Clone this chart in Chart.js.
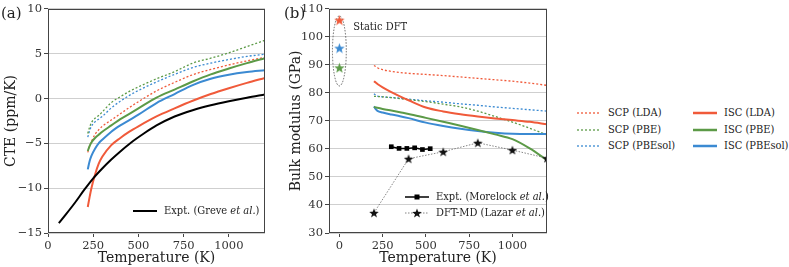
<!DOCTYPE html>
<html>
<head>
<meta charset="utf-8">
<script src="https://cdn.jsdelivr.net/npm/chart.js@4.4.1/dist/chart.umd.min.js"></script>
<style>
body { margin: 0; background: #fff; font-family: 'DejaVu Serif', serif; color: #222; }
#wrap { position: relative; width: 789px; height: 267px; overflow: hidden; }
canvas.plot { position: absolute; top: 0; }
#cA { left: 0; }
#cB { left: 285px; }
.lab { position: absolute; font-size: 15px; line-height: 16px; }
.leg { position: absolute; font-family: 'DejaVu Serif Condensed', 'DejaVu Serif', serif; font-size: 11px; line-height: 14px; white-space: nowrap; color: #222; }
</style>
</head>
<body>
<div id="wrap">
  <canvas id="cA" class="plot" width="280" height="267"></canvas>
  <canvas id="cB" class="plot" width="275" height="267"></canvas>
  <div class="lab" style="left:1px;top:5px">(a)</div>
  <div class="lab" style="left:284px;top:5px">(b)</div>
</div>
<script>
// Panel (a): thermal expansion coefficient
const exptTemp = [60, 100, 150, 200, 250, 300, 350, 400, 460, 530, 600, 700, 800, 900, 1000, 1100, 1200];
const exptCte = [-13.9, -12.9, -11.6, -10.2, -8.9, -7.8, -6.8, -5.9, -4.9, -3.9, -3.0, -2.0, -1.3, -0.75, -0.3, 0.1, 0.45];

const tempA = [220, 230, 240, 260, 280, 300, 350, 400, 450, 500, 600, 700, 800, 900, 1000, 1100, 1200];
const cteIscLda = [-12.1, -11.0, -10.0, -8.5, -7.3, -6.5, -5.2, -4.4, -3.7, -3.1, -2.0, -1.1, -0.25, 0.5, 1.15, 1.75, 2.3];
const cteIscPbe = [-5.85, -5.3, -4.9, -4.4, -4.05, -3.7, -3.0, -2.3, -1.7, -1.1, 0.1, 1.0, 1.9, 2.7, 3.35, 3.95, 4.5];
const cteIscPbesol = [-7.9, -7.0, -6.4, -5.6, -5.0, -4.6, -3.7, -3.0, -2.4, -1.8, -0.5, 0.5, 1.5, 2.2, 2.65, 2.95, 3.15];
const cteScpLda = [-6.0, -5.3, -4.8, -4.0, -3.5, -3.1, -2.4, -1.7, -1.0, -0.35, 0.85, 1.8, 2.65, 3.25, 3.75, 4.2, 4.6];
const cteScpPbe = [-3.9, -3.2, -2.7, -2.2, -1.9, -1.5, -0.45, 0.2, 0.8, 1.3, 2.2, 3.0, 3.95, 4.5, 5.1, 5.8, 6.5];
const cteScpPbesol = [-4.3, -3.6, -3.1, -2.6, -2.3, -2.0, -1.05, -0.3, 0.35, 0.9, 1.85, 2.7, 3.45, 3.95, 4.35, 4.7, 4.95];

// Panel (b): bulk modulus
const tempB = [200, 210, 220, 250, 300, 350, 400, 500, 600, 700, 800, 900, 1000, 1100, 1200];
const bIscLda = [84.2, 83.7, 83.2, 82.0, 80.3, 78.8, 77.4, 74.8, 73.4, 72.4, 71.6, 70.9, 70.3, 69.7, 68.8];
const bIscPbe = [75.0, 74.85, 74.7, 74.3, 73.7, 73.1, 72.5, 71.1, 69.7, 68.3, 66.8, 65.2, 63.5, 60.2, 56.0];
const bIscPbesol = [75.2, 74.2, 73.6, 73.0, 72.3, 71.7, 71.0, 69.4, 68.2, 67.2, 66.4, 65.8, 65.4, 65.3, 65.3];
const bScpLda = [89.8, 89.4, 89.0, 88.3, 87.7, 87.3, 87.0, 86.6, 86.2, 85.7, 85.2, 84.7, 84.2, 83.5, 82.7];
const bScpPbe = [78.8, 78.75, 78.7, 78.6, 78.3, 78.0, 77.6, 76.9, 76.0, 75.0, 73.5, 71.6, 69.6, 67.4, 65.0];
const bScpPbesol = [79.7, 79.2, 78.9, 78.6, 78.4, 78.1, 77.8, 77.2, 76.7, 76.1, 75.6, 75.0, 74.5, 74.0, 73.5];

const morelockTemp = [300, 345, 390, 435, 480, 525];
const morelockB = [60.8, 60.2, 60.2, 60.4, 59.8, 60.1];
const lazarTemp = [200, 400, 600, 800, 1000, 1200];
const lazarB = [37.2, 56.5, 59.0, 62.2, 59.6, 56.7];

const staticTemp = [0, 0, 0];
const staticB = [106, 96, 89];

const xTicksA = [0, 250, 500, 750, 1000];
const yTicksA = [-15, -10, -5, 0, 5, 10];
const xTicksB = [0, 250, 500, 750, 1000];
const yTicksB = [30, 40, 50, 60, 70, 80, 90, 100, 110];

const RED = '#f05a3a', GREEN = '#5c9a47', BLUE = '#3b8ad2';
const FONT = "'DejaVu Serif', serif";
const FONT_NARROW = "'DejaVu Serif Condensed', 'DejaVu Serif', serif";

Chart.defaults.font.family = FONT;
Chart.defaults.color = '#333';

function pts(xs, ys) {
    return xs.map((x, i) => ({ x: x, y: ys[i] }));
}

function minus(v) {
    return v < 0 ? '\u2212' + Math.abs(v) : String(v);
}

function makeStar(color, size) {
    const c = document.createElement('canvas');
    c.width = size; c.height = size;
    const g = c.getContext('2d');
    g.beginPath();
    for (let i = 0; i < 10; i++) {
        const a = -Math.PI / 2 + i * Math.PI / 5;
        const r = i % 2 ? size * 0.21 : size * 0.5;
        g.lineTo(size / 2 + r * Math.cos(a), size / 2 + 0.5 + r * Math.sin(a));
    }
    g.closePath();
    g.fillStyle = color;
    g.fill();
    return c;
}

function line(label, xs, ys, color, dotted, width) {
    return {
        label: label,
        data: pts(xs, ys),
        borderColor: color,
        borderWidth: width || (dotted ? 1.3 : 2),
        borderDash: dotted ? [2, 2] : [],
        pointRadius: 0,
        cubicInterpolationMode: 'monotone',
        fill: false
    };
}

// frame around the plot area
const framePlugin = {
    id: 'frame',
    afterDraw(chart) {
        const a = chart.chartArea, ctx = chart.ctx;
        ctx.save();
        ctx.strokeStyle = '#444';
        ctx.lineWidth = 1;
        ctx.strokeRect(Math.round(a.left) + 0.5, Math.round(a.top) + 0.5,
            Math.round(a.right - a.left) - 1, Math.round(a.bottom - a.top) - 1);
        ctx.restore();
    }
};

// dotted ellipse + label round the static DFT stars
const staticPlugin = {
    id: 'staticDft',
    beforeDatasetsDraw(chart) {
        const xs = chart.scales.x, ys = chart.scales.y, ctx = chart.ctx;
        const cx = xs.getPixelForValue(0), cy = ys.getPixelForValue(95);
        const rx = Math.abs(xs.getPixelForValue(40) - cx);
        const ry = Math.abs(ys.getPixelForValue(107.5) - cy);
        ctx.save();
        ctx.strokeStyle = '#555';
        ctx.lineWidth = 0.9;
        ctx.setLineDash([1.5, 1.5]);
        ctx.beginPath();
        ctx.ellipse(cx, cy, rx, ry, 0, 0, Math.PI * 2);
        ctx.stroke();
        ctx.setLineDash([]);
        ctx.fillStyle = '#222';
        ctx.font = '11px ' + FONT_NARROW;
        ctx.textBaseline = 'middle';
        ctx.fillText('Static DFT', xs.getPixelForValue(80), ys.getPixelForValue(103.6));
        ctx.restore();
    }
};

function axes(xmin, xmax, xt, ymin, ymax, yt, yWidth, yTitle) {
    return {
        x: {
            type: 'linear', min: xmin, max: xmax,
            afterBuildTicks: s => { s.ticks = xt.map(v => ({ value: v })); },
            afterFit: s => { s.height = 34; },
            grid: { drawOnChartArea: false, tickLength: 4, tickColor: '#444' },
            border: { display: false },
            ticks: { padding: 2, maxRotation: 0, font: { size: 11.5 }, color: '#333', callback: v => minus(v) },
            title: { display: true, text: 'Temperature (K)', font: { size: 14 }, color: '#222', padding: { top: 0, bottom: 0 } }
        },
        y: {
            min: ymin, max: ymax,
            afterBuildTicks: s => { s.ticks = yt.map(v => ({ value: v })); },
            afterFit: s => { s.width = yWidth; },
            grid: { color: '#cfcfcf', tickLength: 4, tickColor: '#444' },
            border: { display: false },
            ticks: { padding: 2, font: { size: 11.5 }, color: '#333', callback: v => minus(v) },
            title: { display: true, text: yTitle, font: { size: 14 }, color: '#222', padding: { top: 3, bottom: 0 } }
        }
    };
}

const common = {
    responsive: false,
    animation: false,
    devicePixelRatio: 1,
    plugins: { legend: { display: false }, tooltip: { enabled: false } }
};

new Chart(document.getElementById('cA'), {
    type: 'line',
    data: {
        datasets: [
            line('Expt. (Greve et al.)', exptTemp, exptCte, '#000', false, 2),
            line('ISC (LDA)', tempA, cteIscLda, RED, false),
            line('ISC (PBE)', tempA, cteIscPbe, GREEN, false),
            line('ISC (PBEsol)', tempA, cteIscPbesol, BLUE, false),
            line('SCP (LDA)', tempA, cteScpLda, RED, true),
            line('SCP (PBE)', tempA, cteScpPbe, GREEN, true),
            line('SCP (PBEsol)', tempA, cteScpPbesol, BLUE, true)
        ]
    },
    options: Object.assign({}, common, {
        layout: { padding: { top: 8, right: 15, left: 0, bottom: 0 } },
        scales: axes(0, 1200, xTicksA, -15, 10, yTicksA, 48, 'CTE (ppm/K)')
    }),
    plugins: [framePlugin]
});

new Chart(document.getElementById('cB'), {
    type: 'line',
    data: {
        datasets: [
            {
                label: 'Static DFT',
                data: pts(staticTemp, staticB),
                showLine: false,
                pointStyle: [makeStar(RED, 11), makeStar(BLUE, 11), makeStar(GREEN, 11)],
                pointRadius: 5
            },
            {
                label: 'Expt. (Morelock et al.)',
                data: pts(morelockTemp, morelockB),
                borderColor: '#000', backgroundColor: '#000',
                borderWidth: 1.5, pointStyle: 'rect', pointRadius: 3.3, pointBorderWidth: 0
            },
            {
                label: 'DFT-MD (Lazar et al.)',
                data: pts(lazarTemp, lazarB),
                borderColor: '#666', borderWidth: 0.8, borderDash: [1.5, 1.5],
                pointStyle: makeStar('#111', 10), pointRadius: 5
            },
            line('ISC (LDA)', tempB, bIscLda, RED, false),
            line('ISC (PBE)', tempB, bIscPbe, GREEN, false),
            line('ISC (PBEsol)', tempB, bIscPbesol, BLUE, false),
            line('SCP (LDA)', tempB, bScpLda, RED, true),
            line('SCP (PBE)', tempB, bScpPbe, GREEN, true),
            line('SCP (PBEsol)', tempB, bScpPbesol, BLUE, true)
        ]
    },
    options: Object.assign({}, common, {
        layout: { padding: { top: 8, right: 13, left: 0, bottom: 0 } },
        scales: axes(-60, 1200, xTicksB, 30, 110, yTicksB, 44, 'Bulk modulus (GPa)')
    }),
    plugins: [framePlugin, staticPlugin]
});

// Legends (HTML overlays, swatches drawn on small canvases)
const wrap = document.getElementById('wrap');

function swatch(color, width, dash, marker) {
    const c = document.createElement('canvas');
    c.width = 24; c.height = 12;
    const g = c.getContext('2d');
    g.strokeStyle = color;
    g.lineWidth = width;
    g.setLineDash(dash);
    g.beginPath();
    g.moveTo(0, 6);
    g.lineTo(24, 6);
    g.stroke();
    if (marker === 'square') {
        g.fillStyle = '#000';
        g.fillRect(9.5, 3.5, 5, 5);
    } else if (marker) {
        g.drawImage(marker, 12 - marker.width / 2, 6 - marker.height / 2);
    }
    return c;
}

function addEntry(x, y, label, sw) {
    sw.style.position = 'absolute';
    sw.style.left = x + 'px';
    sw.style.top = (y - 6) + 'px';
    wrap.appendChild(sw);
    const t = document.createElement('div');
    t.className = 'leg';
    t.style.left = (x + 31) + 'px';
    t.style.top = (y - 7) + 'px';
    t.innerHTML = label;
    wrap.appendChild(t);
}

addEntry(133, 211, 'Expt. (Greve <i>et al.</i>)', swatch('#000', 2, []));
addEntry(405, 197, 'Expt. (Morelock <i>et al.</i>)', swatch('#000', 1.5, [], 'square'));
addEntry(405, 213, 'DFT-MD (Lazar <i>et al.</i>)', swatch('#666', 0.8, [1.5, 1.5], makeStar('#111', 10)));

const legendRows = [113, 130, 146];
const legendColors = [RED, GREEN, BLUE];
['SCP (LDA)', 'SCP (PBE)', 'SCP (PBEsol)'].forEach((lab, i) => {
    addEntry(577, legendRows[i], lab, swatch(legendColors[i], 1.3, [2, 2]));
});
['ISC (LDA)', 'ISC (PBE)', 'ISC (PBEsol)'].forEach((lab, i) => {
    addEntry(693, legendRows[i], lab, swatch(legendColors[i], 2.5, []));
});
</script>
</body>
</html>
